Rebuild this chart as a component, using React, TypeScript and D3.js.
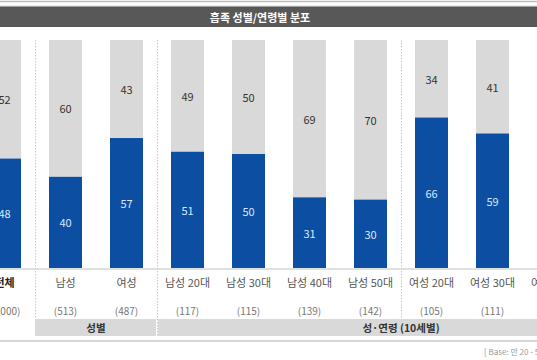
import React from 'react';
import * as d3 from 'd3';

const categories = ['전체', '남성', '여성', '남성 20대', '남성 30대', '남성 40대', '남성 50대', '여성 20대', '여성 30대', '여성 40대'];
const blueValues = [48, 40, 57, 51, 50, 31, 30, 66, 59, 56];
const grayValues = [52, 60, 43, 49, 50, 69, 70, 34, 41, 44];
const sampleSizes = ['(1,000)', '(513)', '(487)', '(117)', '(115)', '(139)', '(142)', '(105)', '(111)', ''];
const groups = [
  { label: '성별', from: '남성', to: '여성', center: ['남성', '여성'] },
  { label: '성·연령 (10세별)', from: '남성 20대', to: '여성 40대', center: ['남성 50대', '여성 20대'] },
];
const separators = [['전체', '남성', 336], ['여성', '남성 20대', 336], ['남성 50대', '여성 20대', 318]] as const;

const W = 537;
const H = 360;
const FONT = '"Noto Sans CJK KR", "Noto Sans", sans-serif';

const App: React.FC = () => {
  const x = d3.scalePoint<string>().domain(categories).range([4.5, 4.5 + 61 * (categories.length - 1)]);
  const y = d3.scaleLinear().domain([0, 100]).range([268, 40]);
  const barW = 33;
  const mid = (a: string, b: string) => ((x(a) as number) + (x(b) as number)) / 2;

  return (
    <div style={{ position: 'fixed', left: 0, top: 0, background: '#fff' }}>
      <svg width={W} height={H} style={{ display: 'block', fontFamily: FONT }}>
        <rect width={W} height={H} fill="#fff" />
        {/* header */}
        <line x1={0} x2={W} y1={1.5} y2={1.5} stroke="#bdbdbd" strokeWidth={1.5} />
        <line x1={0} x2={W} y1={6} y2={6} stroke="#d6d6d6" strokeWidth={1} />
        <rect x={0} y={6.5} width={W} height={20.5} fill="#585858" />
        <text x={260} y={17} textAnchor="middle" dominantBaseline="central" fill="#fff" fontSize={11} fontWeight="bold">
          흡족 성별/연령별 분포
        </text>

        {/* separators */}
        {separators.map(([a, b, end], i) => (
          <line key={i} x1={Math.round(mid(a, b)) + 0.5} x2={Math.round(mid(a, b)) + 0.5} y1={40} y2={end}
            stroke="#c8c8c8" strokeDasharray="1.5,1.5" />
        ))}

        {/* bars */}
        {categories.map((c, i) => {
          const cx = x(c) as number;
          return (
            <g key={c}>
              <rect x={cx - barW / 2} y={y(100)} width={barW} height={y(blueValues[i]) - y(100)} fill="#d9d9d9" />
              <rect x={cx - barW / 2} y={y(blueValues[i])} width={barW} height={y(0) - y(blueValues[i])} fill="#0b4ea2" />
              <text x={cx} y={(y(100) + y(blueValues[i])) / 2} textAnchor="middle" dominantBaseline="central"
                fontSize={11} fill="#333">{grayValues[i]}</text>
              <text x={cx} y={(y(blueValues[i]) + y(0)) / 2} textAnchor="middle" dominantBaseline="central"
                fontSize={11} fill="#dde8ff">{blueValues[i]}</text>
              <text x={cx} y={282} textAnchor="middle" dominantBaseline="central" fontSize={11}
                fill={i === 0 ? '#222' : '#555'} fontWeight={i === 0 ? 'bold' : 'normal'}>{c}</text>
              <text x={cx} y={310} textAnchor="middle" dominantBaseline="central" fontSize={10} fill="#777">
                {sampleSizes[i]}
              </text>
            </g>
          );
        })}
        <line x1={0} x2={W} y1={269} y2={269} stroke="#d4d4d4" strokeWidth={1.5} />

        {/* group bands */}
        {groups.map((g, i) => {
          const idx = categories.indexOf(g.from);
          const x0 = Math.round(mid(categories[idx - 1], g.from)) + (i === 0 ? 0 : 1);
          const lastIdx = categories.indexOf(g.to);
          const x1 = lastIdx < categories.length - 1 ? Math.round(mid(g.to, categories[lastIdx + 1])) - 1 : W + 40;
          const cx = mid(g.center[0], g.center[1]);
          return (
            <g key={g.label}>
              <rect x={x0} y={319} width={x1 - x0} height={17} fill="#d9d9d9" />
              <text x={cx} y={327.5} textAnchor="middle" dominantBaseline="central" fontSize={10.5}
                fontWeight="bold" fill="#333">{g.label}</text>
            </g>
          );
        })}
        <line x1={0} x2={W} y1={341} y2={341} stroke="#c8c8c8" strokeWidth={1.5} />
        <text x={484} y={351.5} dominantBaseline="central" fontSize={8} fill="#999">
          [ Base: 만 20 - 59세 성인 남녀, 단위: % ]
        </text>
      </svg>
    </div>
  );
};

export default App;
